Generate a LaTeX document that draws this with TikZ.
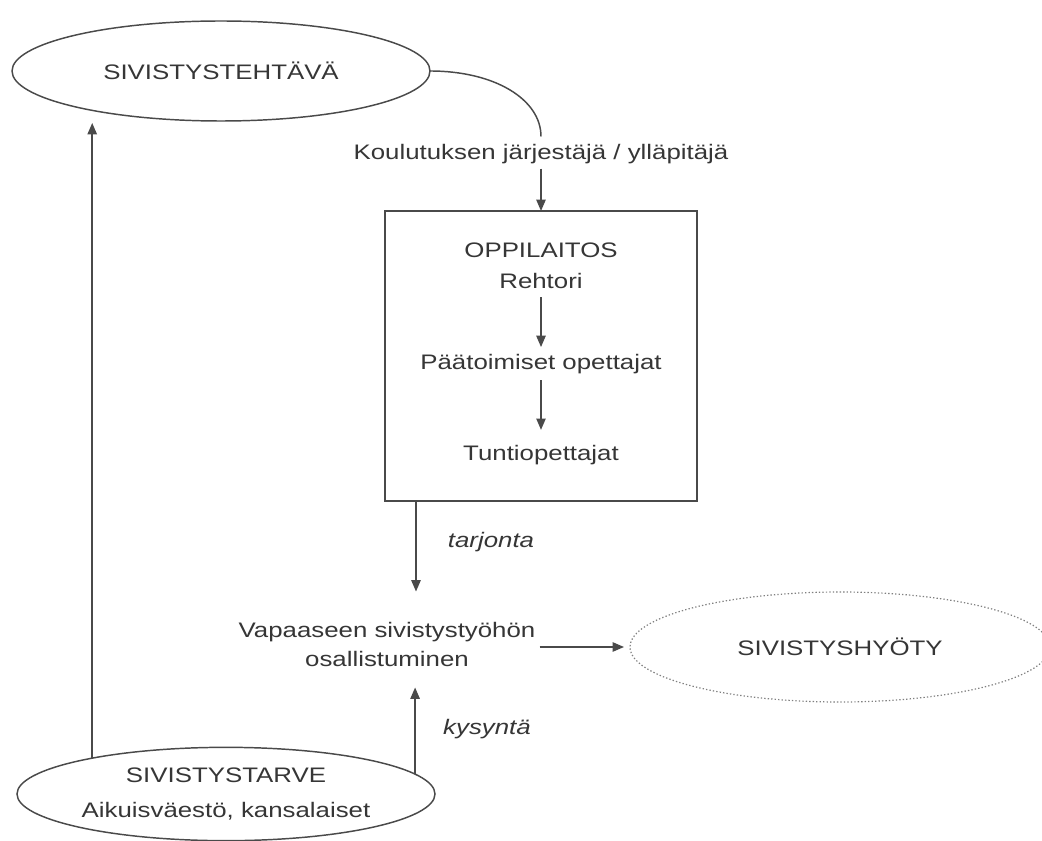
\documentclass[tikz,border=0pt]{standalone}
\usepackage{fontspec}
\setmainfont{Liberation Sans}
\usetikzlibrary{arrows.meta,shapes.geometric}
\definecolor{ink}{HTML}{363636}
\definecolor{ln}{HTML}{4A4A4A}
\newcommand{\wx}[1]{\scalebox{1.23}[1]{#1}}
\begin{document}
\begin{tikzpicture}[x=0.75pt,y=0.75pt,
  txt/.style={inner sep=0pt, text=ink, font=\fontsize{15.75pt}{21.75pt}\selectfont, align=center},
  arr/.style={draw=ln, line width=1.1pt, -{Triangle[length=8.5pt,width=7pt]}},
  plain/.style={draw=ln, line width=1.1pt},
  ell/.style={ellipse, draw=ln, line width=1.1pt, inner sep=0pt, outer sep=0pt, text=ink,
    font=\fontsize{15.75pt}{21.75pt}\selectfont, align=center},
  dotell/.style={ell, draw=gray, line width=0.9pt, dash pattern=on 1pt off 1.6pt},
  boxst/.style={draw=ln, line width=1.1pt, inner sep=0pt, outer sep=0pt}
]
\useasboundingbox (0,0) rectangle (1042,-841);
\fill[white] (0,0) rectangle (1042,-841);

\node[ell, minimum width=313.5pt, minimum height=75pt] (E1) at (221,-71) {\wx{SIVISTYSTEHTÄVÄ}};
\node[txt, anchor=base] (K) at (541,-160) {\wx{Koulutuksen järjestäjä / ylläpitäjä}};
\node[boxst, minimum width=234pt, minimum height=217.5pt] (box) at (541,-356) {};
\node[txt, anchor=base] (O) at (541,-258) {\wx{OPPILAITOS}};
\node[txt, anchor=base] (R) at (541,-289) {\wx{Rehtori}};
\node[txt, anchor=base] (P) at (541,-370) {\wx{Päätoimiset opettajat}};
\node[txt, anchor=base] (T) at (541,-460) {\wx{Tuntiopettajat}};
\node[txt, inner xsep=3pt] (V) at (387,-644) {\wx{Vapaaseen sivistystyöhön}\\\wx{osallistuminen}};
\node[txt, anchor=base] (ta) at (491,-547) {\itshape\wx{tarjonta}};
\node[txt, anchor=base] (ky) at (487,-734) {\itshape\wx{kysyntä}};
\node[ell, minimum width=313.5pt, minimum height=70pt] (E2) at (226,-794) {\wx{SIVISTYSTARVE}\\[4.5pt]\wx{Aikuisväestö, kansalaiset}};
\node[dotell, minimum width=315pt, minimum height=82.5pt] (E3) at (840,-647) {\wx{SIVISTYSHYÖTY}};

\draw[plain, shorten >=6pt] (E1.east) .. controls +(65,0) and +(0,45) .. (K.north);
\draw[arr, shorten <=3pt] (K.south) -- (box.north);
\draw[arr, shorten <=6pt, shorten >=5.6pt] (R.south) -- (P.north);
\draw[arr, shorten <=4.2pt, shorten >=11pt] (P.south) -- (T.north);
\coordinate (tx) at ([xshift=23.25pt]box.south west);
\draw[arr, shorten >=22.5pt] (tx) -- (tx |- V.north);
\draw[arr, shorten >=15.75pt] (E2.6) -- (E2.6 |- V.south);
\draw[arr, shorten >=1.5pt] (E2.165) -- (E2.165 |- E1.south);
\draw[arr, shorten >=4.5pt] (V.east |- E3.west) -- (E3.west);
\end{tikzpicture}
\end{document}
